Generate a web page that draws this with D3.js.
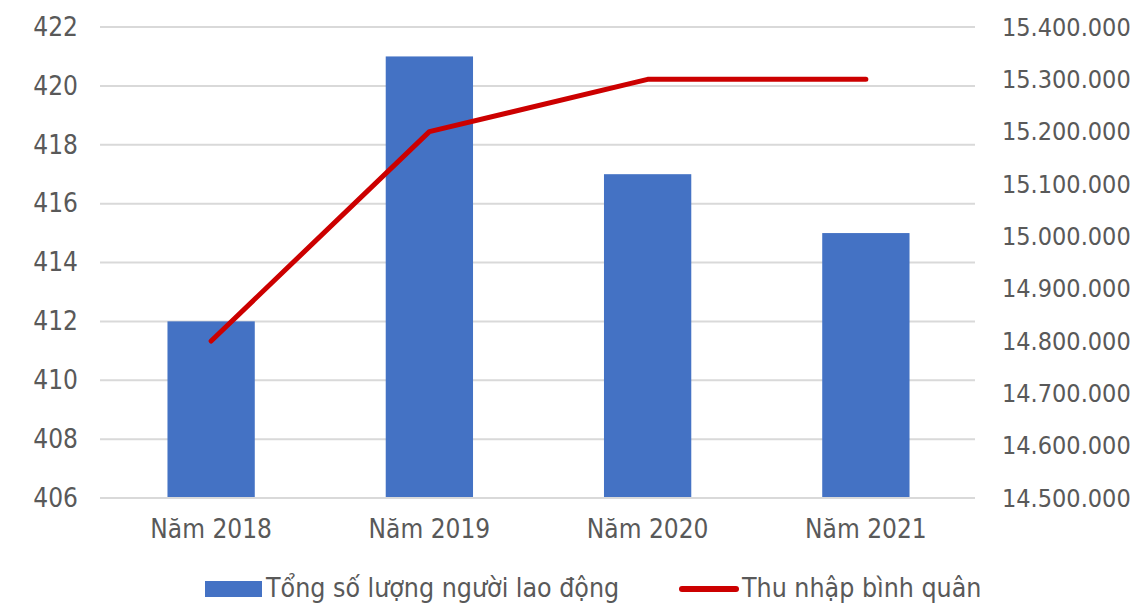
<!DOCTYPE html>
<html>
<head>
<meta charset="utf-8">
<script src="https://cdn.jsdelivr.net/npm/d3@7"></script>
<style>
  body { margin: 0; background: #fff; }
  svg text { font-family: "DejaVu Sans Condensed", "DejaVu Sans", sans-serif; fill: #595959; }
</style>
</head>
<body>
<div id="chart-area"></div>
<script>
const categories = ["Năm 2018", "Năm 2019", "Năm 2020", "Năm 2021"];
const workers = [412, 421, 417, 415];
const income = [14800000, 15200000, 15300000, 15300000];
const leftTicks = [406, 408, 410, 412, 414, 416, 418, 420, 422];
const rightTicks = [14500000, 14600000, 14700000, 14800000, 14900000, 15000000, 15100000, 15200000, 15300000, 15400000];
const seriesNames = ["Tổng số lượng người lao động", "Thu nhập bình quân"];

const chartSize = { width: 1138, height: 603 };
const margin = { left: 102, right: 163, top: 27, bottom: 105 };
const width = chartSize.width - margin.left - margin.right;
const height = chartSize.height - margin.top - margin.bottom;

const svg = d3.select("#chart-area").append("svg")
    .attr("width", chartSize.width)
    .attr("height", chartSize.height);

const g = svg.append("g").attr("transform", `translate(${margin.left}, ${margin.top})`);

const x = d3.scaleBand().domain(categories).range([0, width]).padding(0);
const yLeft = d3.scaleLinear().domain([406, 422]).range([height, 0]);
const yRight = d3.scaleLinear().domain([14500000, 15400000]).range([height, 0]);

// thousands separated with dots
const fmtDots = d => d3.format(",")(d).replace(/,/g, ".");

// gridlines
g.selectAll(".grid").data(leftTicks).enter().append("line")
    .attr("x1", -2).attr("x2", width)
    .attr("y1", d => yLeft(d)).attr("y2", d => yLeft(d))
    .attr("stroke", "#d9d9d9").attr("stroke-width", 2);

// left axis labels
const leftAxis = d3.axisLeft(yLeft).tickValues(leftTicks).tickSize(0).tickPadding(24);
g.append("g").call(leftAxis)
    .call(a => a.select(".domain").remove())
    .selectAll("text").style("font-size", "26px");

const rightAxis = d3.axisRight(yRight).tickValues(rightTicks).tickSize(0).tickPadding(27).tickFormat(fmtDots);
g.append("g").attr("transform", `translate(${width}, 0)`).call(rightAxis)
    .call(a => a.select(".domain").remove())
    .selectAll("text").style("font-size", "25px");

const xAxis = d3.axisBottom(x).tickSize(0).tickPadding(22);
g.append("g").attr("transform", `translate(0, ${height})`).call(xAxis)
    .call(a => a.select(".domain").remove())
    .selectAll("text").style("font-size", "26px");

// bars
const barW = x.bandwidth() * 0.4;
g.selectAll("rect.bar").data(workers).enter().append("rect")
    .attr("class", "bar")
    .attr("x", (d, i) => x(categories[i]) + (x.bandwidth() - barW) / 2)
    .attr("y", d => yLeft(d))
    .attr("width", barW)
    .attr("height", d => height - yLeft(d) - 1)
    .attr("fill", "#4472c4");

// line
const line = d3.line()
    .x((d, i) => x(categories[i]) + x.bandwidth() / 2)
    .y(d => yRight(d));
g.append("path").datum(income)
    .attr("d", line)
    .attr("fill", "none")
    .attr("stroke", "#cc0000")
    .attr("stroke-width", 5)
    .attr("stroke-linecap", "round")
    .attr("stroke-linejoin", "round");

// legend
const legend = svg.append("g").attr("transform", "translate(0, 588)");
legend.append("rect").attr("x", 205).attr("y", -7).attr("width", 57).attr("height", 16).attr("fill", "#4472c4");
legend.append("text").attr("x", 266).attr("y", 0).attr("dy", "0.35em")
    .style("font-size", "26.5px").text(seriesNames[0]);
legend.append("line").attr("x1", 682).attr("x2", 736).attr("y1", 1).attr("y2", 1)
    .attr("stroke", "#cc0000").attr("stroke-width", 6).attr("stroke-linecap", "round");
legend.append("text").attr("x", 742).attr("y", 0).attr("dy", "0.35em")
    .style("font-size", "26.5px").text(seriesNames[1]);
</script>
</body>
</html>
